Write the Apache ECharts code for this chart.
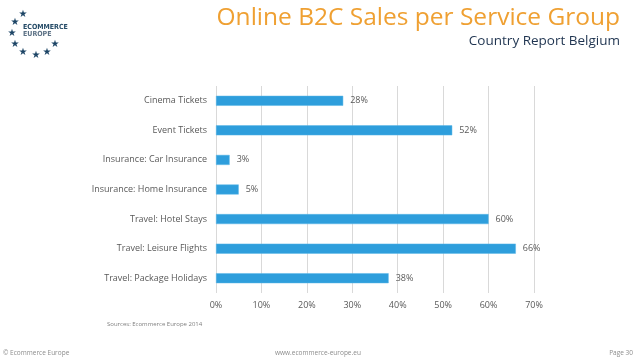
<!DOCTYPE html>
<html><head><meta charset="utf-8">
<script src="https://cdn.jsdelivr.net/npm/echarts@6/dist/echarts.min.js"></script>
<style>html,body{margin:0;padding:0;background:#fff}#c{width:638px;height:359px}</style>
</head><body><div id="c"></div>
<script>
var categories = ['Cinema Tickets','Event Tickets','Insurance: Car Insurance','Insurance: Home Insurance','Travel: Hotel Stays','Travel: Leisure Flights','Travel: Package Holidays'];
var values = [28, 52, 3, 5, 60, 66, 38];
var tickLabels = ['0%','10%','20%','30%','40%','50%','60%','70%'];

var chart = echarts.init(document.getElementById('c'), null, {renderer:'canvas'});
var starPos = [[23,14],[15,22],[12,33],[15,44],[23,52],[36,55],[47,52],[55,44]];
var graphics = starPos.map(function(p){
  return {type:'text', x:p[0], y:p[1], style:{text:'★', fill:'#1d4566', font:'10px "DejaVu Sans"', align:'center', verticalAlign:'middle'}};
});
graphics.push(
  {type:'text', x:23, y:27, style:{text:'ECOMMERCE', fill:'#244a66', font:'bold 7px "DejaVu Sans Condensed"', verticalAlign:'middle'}},
  {type:'text', x:23, y:34.5, style:{text:'EUROPE', fill:'#5c7185', font:'bold 7px "DejaVu Sans Condensed"', verticalAlign:'middle'}},
  {type:'text', right:18, top:6, style:{text:'Online B2C Sales per Service Group', fill:'#efa032', font:'24.5px "Open Sans"'}},
  {type:'text', right:18, top:34, style:{text:'Country Report Belgium', fill:'#1f3450', font:'13.5px "Open Sans"'}},
  {type:'text', left:107, top:321, style:{text:'Sources: Ecommerce Europe 2014', fill:'#7f7f7f', font:'6px "Open Sans"'}},
  {type:'text', left:3, top:350, style:{text:'© Ecommerce Europe', fill:'#8c8c8c', font:'6.5px "Open Sans"'}},
  {type:'text', left:275, top:350, style:{text:'www.ecommerce-europe.eu', fill:'#8c8c8c', font:'6.5px "Open Sans"'}},
  {type:'text', right:5, top:350, style:{text:'Page 30', fill:'#8c8c8c', font:'6.5px "Open Sans"'}}
);

chart.setOption({
  animation:false,
  grid:{left:216, right:104, top:86, bottom:66, containLabel:false},
  xAxis:{type:'value', min:0, max:70, interval:10,
    axisLine:{show:false}, axisTick:{show:false},
    splitLine:{lineStyle:{color:'#d9d9d9', width:1}},
    axisLabel:{color:'#595959', fontSize:9, fontFamily:'Open Sans', margin:8,
      formatter:function(v){return tickLabels[Math.round(v/10)];}}},
  yAxis:{type:'category', data:categories, inverse:true,
    axisLine:{show:false}, axisTick:{show:false},
    axisLabel:{color:'#595959', fontSize:9, fontFamily:'Open Sans', margin:9}},
  series:[{type:'bar', data:values, barWidth:10,
    itemStyle:{color:'#2e9edc', borderColor:'#5bb6e6', borderWidth:0.5},
    label:{show:true, position:'right', distance:7, color:'#595959', fontSize:9, fontFamily:'Open Sans',
      formatter:function(p){return p.value+'%';}}}],
  graphic:graphics
});
</script></body></html>
